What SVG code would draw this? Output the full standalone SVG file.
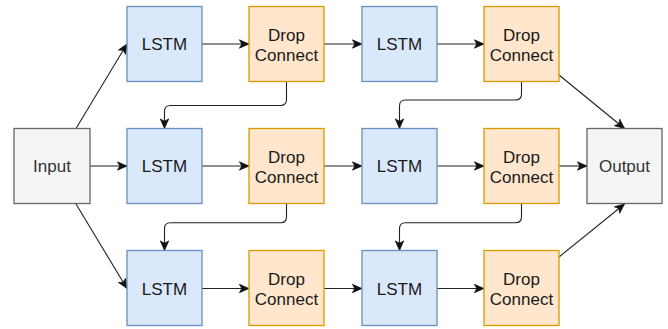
<svg xmlns="http://www.w3.org/2000/svg" width="668" height="329" viewBox="0 0 668 329">
<style>
.lstm{fill:#dae8fc;stroke:#6c8ebf;stroke-width:1.3}
.dc{fill:#ffe6cc;stroke:#d79b00;stroke-width:1.3}
.io{fill:#f5f5f5;stroke:#666666;stroke-width:1.3}
text{font-family:"Liberation Sans",Arial,sans-serif;font-size:17px;text-anchor:middle;fill:#1a1a1a}
.io+text{fill:#333333}
.e{fill:none;stroke:#222;stroke-width:1.1}
</style>
<defs>
<marker id="a" markerUnits="userSpaceOnUse" markerWidth="12" markerHeight="12" viewBox="0 0 10 10" refX="9" refY="5" orient="auto">
<path d="M1,1.5 L9,5 L1,8.5 L3,5 Z" fill="#111" stroke="#111" stroke-width="0.6"/>
</marker>
</defs>
<g id="connectors" class="edges">
<path class="e" d="M76,128.5 L127,44" marker-end="url(#a)"/>
<path class="e" d="M90,166 H127" marker-end="url(#a)"/>
<path class="e" d="M76,204 L127,288.5" marker-end="url(#a)"/>
<path class="e" d="M202,44 H249" marker-end="url(#a)"/>
<path class="e" d="M324,44 H362" marker-end="url(#a)"/>
<path class="e" d="M437,44 H484" marker-end="url(#a)"/>
<path class="e" d="M202,166 H249" marker-end="url(#a)"/>
<path class="e" d="M324,166 H362" marker-end="url(#a)"/>
<path class="e" d="M437,166 H484" marker-end="url(#a)"/>
<path class="e" d="M559,166 H587" marker-end="url(#a)"/>
<path class="e" d="M202,288.5 H249" marker-end="url(#a)"/>
<path class="e" d="M324,288.5 H362" marker-end="url(#a)"/>
<path class="e" d="M437,288.5 H484" marker-end="url(#a)"/>
<path class="e" d="M286.5,81 V99.5 Q286.5,105.5 280.5,105.5 H170.5 Q164.5,105.5 164.5,111.5 V128.5" marker-end="url(#a)"/>
<path class="e" d="M521.5,81 V94 Q521.5,100 515.5,100 H405.5 Q399.5,100 399.5,106 V128.5" marker-end="url(#a)"/>
<path class="e" d="M286.5,204 V216.7 Q286.5,222.7 280.5,222.7 H170.5 Q164.5,222.7 164.5,228.7 V250.5" marker-end="url(#a)"/>
<path class="e" d="M521.5,204 V216.7 Q521.5,222.7 515.5,222.7 H405.5 Q399.5,222.7 399.5,228.7 V250.5" marker-end="url(#a)"/>
<path class="e" d="M559,75 L624.5,128.5" marker-end="url(#a)"/>
<path class="e" d="M559,257 L624.5,204" marker-end="url(#a)"/>
</g>
<g id="input"><rect class="io" x="14" y="128.5" width="76" height="75"/><text x="52" y="172">Input</text></g>
<g id="output"><rect class="io" x="587" y="128.5" width="75" height="75"/><text x="624.5" y="172">Output</text></g>
<g id="lstm11"><rect class="lstm" x="127" y="6.5" width="75" height="75"/><text x="164.5" y="50">LSTM</text></g>
<g id="dc12"><rect class="dc" x="249" y="6.5" width="75" height="75"/><text x="286.5" y="40.5">Drop</text><text x="286.5" y="60.5">Connect</text></g>
<g id="lstm13"><rect class="lstm" x="362" y="6.5" width="75" height="75"/><text x="399.5" y="50">LSTM</text></g>
<g id="dc14"><rect class="dc" x="484" y="6.5" width="75" height="75"/><text x="521.5" y="40.5">Drop</text><text x="521.5" y="60.5">Connect</text></g>
<g id="lstm21"><rect class="lstm" x="127" y="128.5" width="75" height="75"/><text x="164.5" y="172">LSTM</text></g>
<g id="dc22"><rect class="dc" x="249" y="128.5" width="75" height="75"/><text x="286.5" y="162.5">Drop</text><text x="286.5" y="182.5">Connect</text></g>
<g id="lstm23"><rect class="lstm" x="362" y="128.5" width="75" height="75"/><text x="399.5" y="172">LSTM</text></g>
<g id="dc24"><rect class="dc" x="484" y="128.5" width="75" height="75"/><text x="521.5" y="162.5">Drop</text><text x="521.5" y="182.5">Connect</text></g>
<g id="lstm31"><rect class="lstm" x="127" y="250.5" width="75" height="75"/><text x="164.5" y="294.5">LSTM</text></g>
<g id="dc32"><rect class="dc" x="249" y="250.5" width="75" height="75"/><text x="286.5" y="284.5">Drop</text><text x="286.5" y="304.5">Connect</text></g>
<g id="lstm33"><rect class="lstm" x="362" y="250.5" width="75" height="75"/><text x="399.5" y="294.5">LSTM</text></g>
<g id="dc34"><rect class="dc" x="484" y="250.5" width="75" height="75"/><text x="521.5" y="284.5">Drop</text><text x="521.5" y="304.5">Connect</text></g>
</svg>
